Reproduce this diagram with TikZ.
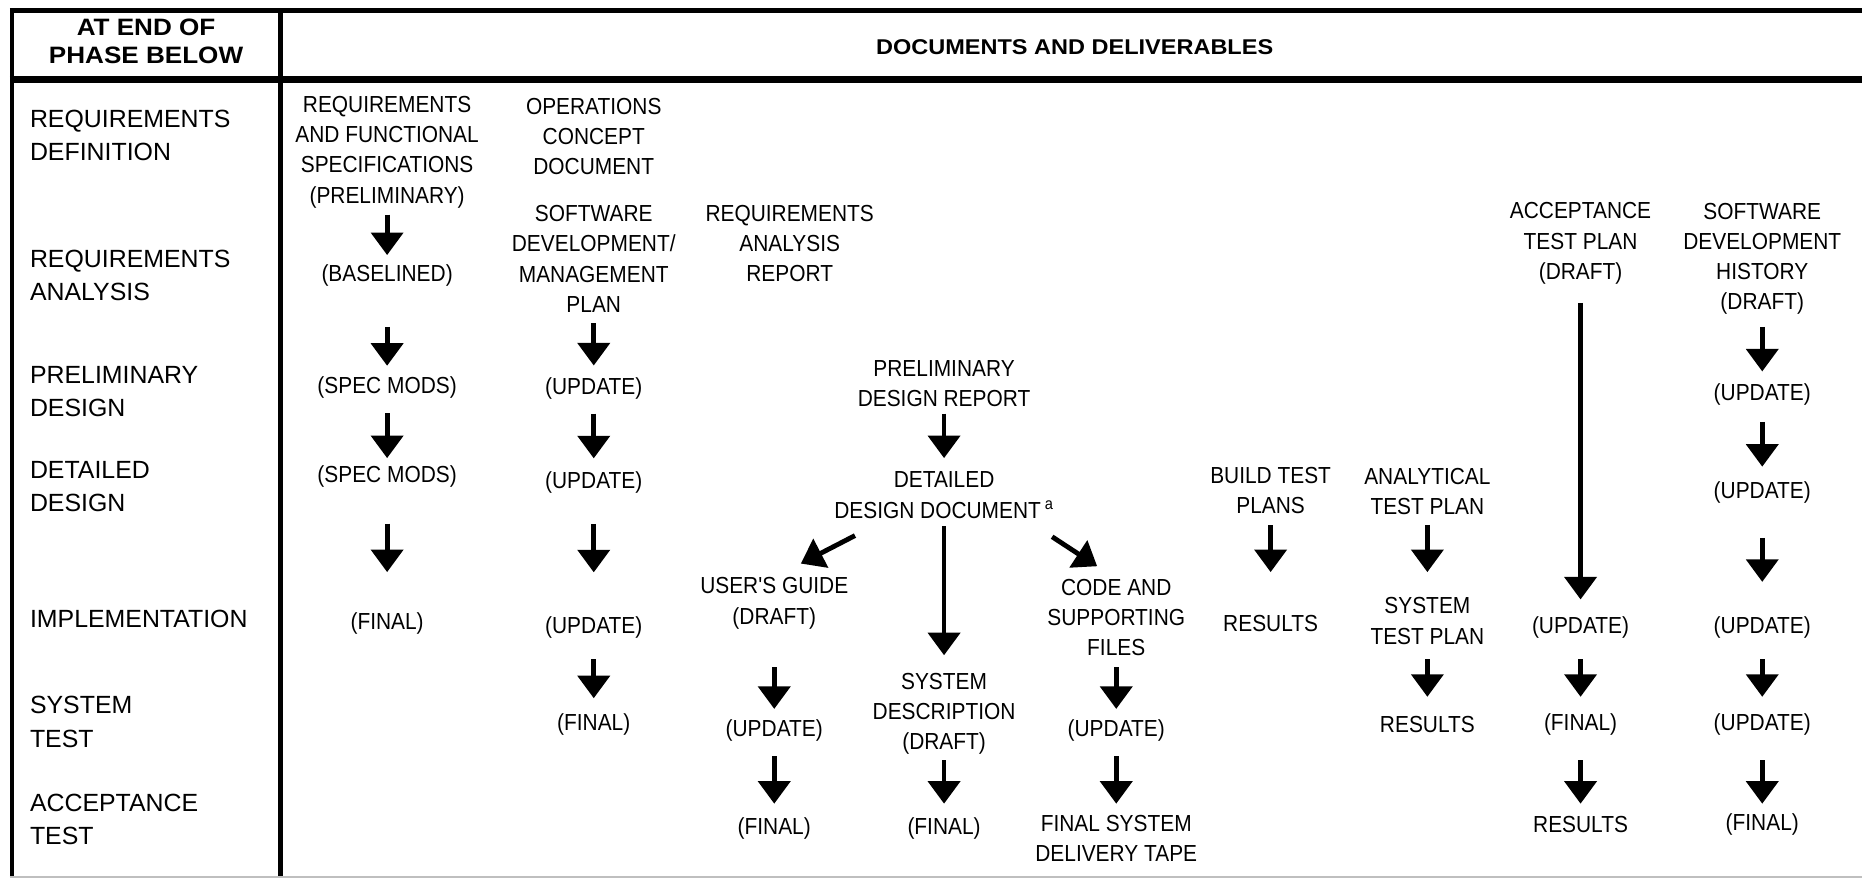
\documentclass[tikz,border=0pt]{standalone}
\usepackage{fontspec}
\setmainfont{Liberation Sans}
\newfontfamily\docfont[FakeStretch=0.9]{Liberation Sans}
\newfontfamily\headfont[FakeStretch=1.1]{Liberation Sans}
\usetikzlibrary{arrows.meta}

\begin{document}
\begin{tikzpicture}[x=0.025cm, y=-0.025cm,
  doc/.style={align=center, inner sep=0pt, font=\docfont\fontsize{13.9}{18.1}\selectfont},
  phase/.style={anchor=west, align=left, inner sep=0pt, font=\fontsize{14.9}{19.9}\selectfont},
  head/.style={align=center, inner sep=0pt, font=\headfont\bfseries\fontsize{14.2}{17}\selectfont},
  arr/.style={-{Triangle[width=19pt,length=13.5pt]}, line width=2.9pt}]
\useasboundingbox (0,0) rectangle (1568,739);

% frame
\draw[line width=2.7pt] (8.4,8.8) -- (1568,8.8);
\draw[line width=4.2pt] (8.4,67) -- (1568,67);
\draw[line width=2.4pt] (10.1,7) -- (10.1,739);
\draw[line width=3pt] (235.8,7) -- (235.8,739);
\draw[black!25, line width=1pt] (8,738.5) -- (1568,738.5);

\node[head] (hphase) at (123,35) {AT END OF\\PHASE BELOW};
\node[head, font=\headfont\bfseries\fontsize{12.8}{15}\selectfont] (hdocs) at (905,40) {DOCUMENTS AND DELIVERABLES};

% phases
\node[phase] (p1) at (25,114) {REQUIREMENTS\\DEFINITION};
\node[phase] (p2) at (25,232) {REQUIREMENTS\\ANALYSIS};
\node[phase] (p3) at (25,330) {PRELIMINARY\\DESIGN};
\node[phase] (p4) at (25,410) {DETAILED\\DESIGN};
\node[phase] (p5) at (25,521) {IMPLEMENTATION};
\node[phase] (p6) at (25,608) {SYSTEM\\TEST};
\node[phase] (p7) at (25,690) {ACCEPTANCE\\TEST};

% documents
\node[doc] (spec1) at (326,128) {REQUIREMENTS\\AND FUNCTIONAL\\SPECIFICATIONS\\(PRELIMINARY)};
\node[doc] (spec2) at (326,232) {(BASELINED)};
\node[doc] (spec3) at (326,326) {(SPEC MODS)};
\node[doc] (spec4) at (326,401) {(SPEC MODS)};
\node[doc] (spec5) at (326,525) {(FINAL)};

\node[doc] (ocd) at (500,115) {OPERATIONS\\CONCEPT\\DOCUMENT};
\node[doc] (sdmp) at (500,218) {SOFTWARE\\DEVELOPMENT/\\MANAGEMENT\\PLAN};
\node[doc] (sdmp2) at (500,327) {(UPDATE)};
\node[doc] (sdmp3) at (500,406) {(UPDATE)};
\node[doc] (sdmp4) at (500,528) {(UPDATE)};
\node[doc] (sdmp5) at (500,610) {(FINAL)};

\node[doc] (rar) at (665,205) {REQUIREMENTS\\ANALYSIS\\REPORT};

\node[doc] (pdr) at (795,323) {PRELIMINARY\\DESIGN REPORT};
\node[doc] (ddd) at (795,417) {DETAILED\\DESIGN DOCUMENT\,\textsuperscript{a}};
\node[doc] (sysd) at (795,601) {SYSTEM\\DESCRIPTION\\(DRAFT)};
\node[doc] (sysd2) at (795,698) {(FINAL)};

\node[doc] (ug) at (652,508) {USER'S GUIDE\\(DRAFT)};
\node[doc] (ug2) at (652,615) {(UPDATE)};
\node[doc] (ug3) at (652,698) {(FINAL)};

\node[doc] (code) at (940,520) {CODE AND\\SUPPORTING\\FILES};
\node[doc] (code2) at (940,615) {(UPDATE)};
\node[doc] (code3) at (940,706) {FINAL SYSTEM\\DELIVERY TAPE};

\node[doc] (btp) at (1070,413) {BUILD TEST\\PLANS};
\node[doc] (btp2) at (1070,525) {RESULTS};

\node[doc] (atp) at (1202,414) {ANALYTICAL\\TEST PLAN};
\node[doc] (stp) at (1202,523) {SYSTEM\\TEST PLAN};
\node[doc] (stp2) at (1202,610) {RESULTS};

\node[doc] (acc) at (1331,205) {ACCEPTANCE\\TEST PLAN\\(DRAFT)};
\node[doc] (acc2) at (1331,528) {(UPDATE)};
\node[doc] (acc3) at (1331,610) {(FINAL)};
\node[doc] (acc4) at (1331,694) {RESULTS};

\node[doc] (hist) at (1484,218) {SOFTWARE\\DEVELOPMENT\\HISTORY\\(DRAFT)};
\node[doc] (hist2) at (1484,332) {(UPDATE)};
\node[doc] (hist3) at (1484,415) {(UPDATE)};
\node[doc] (hist4) at (1484,528) {(UPDATE)};
\node[doc] (hist5) at (1484,610) {(UPDATE)};
\node[doc] (hist6) at (1484,694) {(FINAL)};

\coordinate (ddd-l) at (720,451);
\coordinate (ddd-r) at (886,452);

% arrows
\draw[arr, shorten <=1.32cm, shorten >=0.43cm] (spec1.center) -- (spec2.center);
\draw[arr, shorten <=1.08cm, shorten >=0.45cm] (spec2.center) -- (spec3.center);
\draw[arr, shorten <=0.55cm, shorten >=0.38cm] (spec3.center) -- (spec4.center);
\draw[arr, shorten <=1.00cm, shorten >=1.08cm] (spec4.center) -- (spec5.center);

\draw[arr, shorten <=1.35cm, shorten >=0.48cm] (sdmp.center) -- (sdmp2.center);
\draw[arr, shorten <=0.53cm, shorten >=0.50cm] (sdmp2.center) -- (sdmp3.center);
\draw[arr, shorten <=0.88cm, shorten >=1.15cm] (sdmp3.center) -- (sdmp4.center);
\draw[arr, shorten <=0.68cm, shorten >=0.55cm] (sdmp4.center) -- (sdmp5.center);

\draw[arr, shorten <=0.63cm, shorten >=0.78cm] (pdr.center) -- (ddd.center);
\draw[arr, shorten <=0.65cm, shorten >=1.23cm] (ddd.center) -- (sysd.center);
\draw[arr, shorten <=0.98cm, shorten >=0.53cm] (sysd.center) -- (sysd2.center);
\draw[arr, shorten >=0.63cm] (ddd-l) -- (ug.north);
\draw[arr, shorten >=0.48cm] (ddd-r) -- (code.north);

\draw[arr, shorten <=1.35cm, shorten >=0.45cm] (ug.center) -- (ug2.center);
\draw[arr, shorten <=0.55cm, shorten >=0.53cm] (ug2.center) -- (ug3.center);

\draw[arr, shorten <=1.05cm, shorten >=0.45cm] (code.center) -- (code2.center);
\draw[arr, shorten <=0.55cm, shorten >=0.73cm] (code2.center) -- (code3.center);

\draw[arr, shorten <=0.73cm, shorten >=1.08cm] (btp.center) -- (btp2.center);

\draw[arr, shorten <=0.70cm, shorten >=1.03cm] (atp.center) -- (stp.center);
\draw[arr, shorten <=0.80cm, shorten >=0.58cm] (stp.center) -- (stp2.center);

\draw[arr, shorten <=1.25cm, shorten >=0.58cm] (acc.center) -- (acc2.center);
\draw[arr, shorten <=0.68cm, shorten >=0.58cm] (acc2.center) -- (acc3.center);
\draw[arr, shorten <=0.75cm, shorten >=0.43cm] (acc3.center) -- (acc4.center);

\draw[arr, shorten <=1.43cm, shorten >=0.48cm] (hist.center) -- (hist2.center);
\draw[arr, shorten <=0.58cm, shorten >=0.55cm] (hist2.center) -- (hist3.center);
\draw[arr, shorten <=0.95cm, shorten >=0.95cm] (hist3.center) -- (hist4.center);
\draw[arr, shorten <=0.68cm, shorten >=0.58cm] (hist4.center) -- (hist5.center);
\draw[arr, shorten <=0.75cm, shorten >=0.43cm] (hist5.center) -- (hist6.center);
\end{tikzpicture}
\end{document}
